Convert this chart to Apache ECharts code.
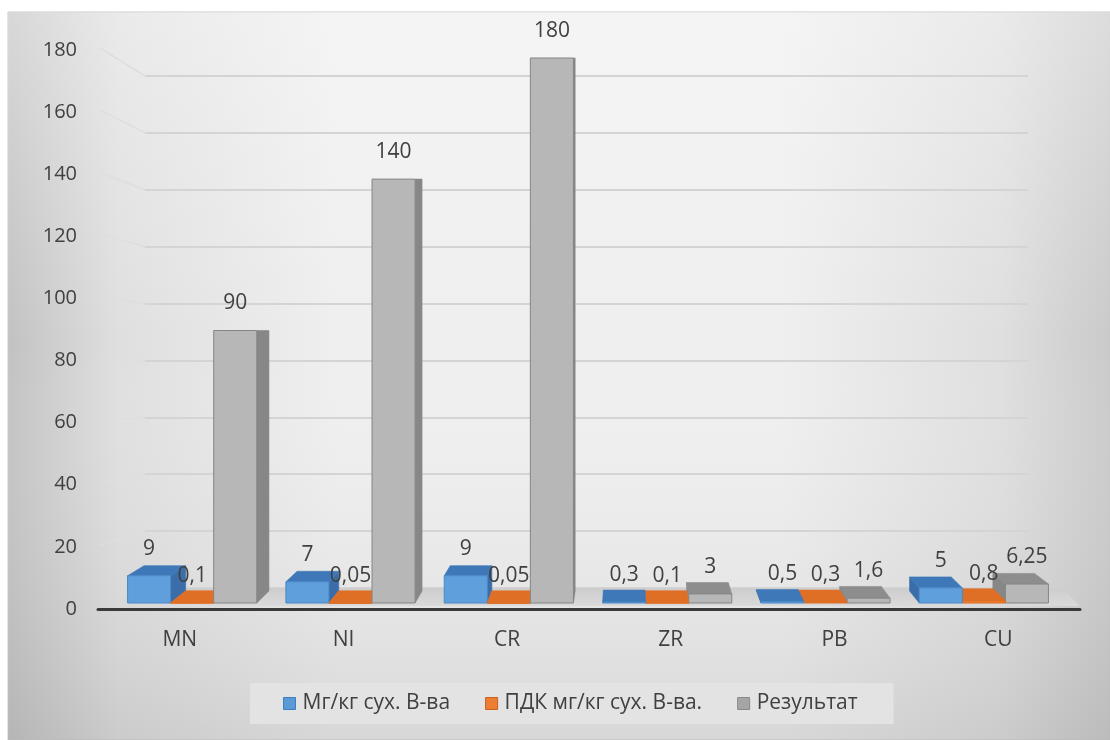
<!DOCTYPE html>
<html>
<head>
<meta charset="utf-8">
<script src="https://cdn.jsdelivr.net/npm/echarts@6/dist/echarts.min.js"></script>
<style>
  html, body { margin: 0; padding: 0; background: #ffffff; }
  #chart { width: 1110px; height: 740px; }
</style>
</head>
<body>
<div id="chart"></div>
<script>
// Chart data
const categories = ['MN', 'NI', 'CR', 'ZR', 'PB', 'CU'];
const seriesNames = ['Мг/кг сух. В-ва', 'ПДК мг/кг сух. В-ва.', 'Результат'];
const mgPerKg = [9, 7, 9, 0.3, 0.5, 5];
const pdkValues = [0.1, 0.05, 0.05, 0.1, 0.3, 0.8];
const resultValues = [90, 140, 180, 3, 1.6, 6.25];
const yTicks = [0, 20, 40, 60, 80, 100, 120, 140, 160, 180];

const seriesValues = [mgPerKg, pdkValues, resultValues];

const FONT = '"Open Sans", "Noto Sans", sans-serif';
const TEXT = '#404040';
const legendColors = ['#5b9bd5', '#ed7d31', '#a5a5a5'];
const legendBorders = ['#3f7fc0', '#c8621f', '#888888'];
// shading of the box faces for each series
const faces = [
  { front: '#5e9fdc', top: '#3f78b8', side: '#3b6ea8', stroke: '#4a88c6' },
  { front: '#ec7a2e', top: '#e06f26', side: '#c45d1c', stroke: '#dc6c22' },
  { front: '#b7b7b7', top: '#8d8d8d', side: '#878787', stroke: '#858585' }
];

const yMin = yTicks[0];
const yMax = yTicks[yTicks.length - 1];
const yStep = yTicks[1] - yTicks[0];

const chart = echarts.init(document.getElementById('chart'));

function fmt(v) { return String(v).replace('.', ','); }

// pixel point on the front plane (grid 0)
function frontPoint(catIdx, v) {
  return chart.convertToPixel({ gridIndex: 0 }, [catIdx, v]);
}
function frontEdges(v) {
  const a = frontPoint(0, v), b = frontPoint(1, v);
  const half = (b[0] - a[0]) / 2;
  const last = frontPoint(categories.length - 1, v);
  return { left: a[0] - half, right: last[0] + half, y: a[1] };
}

function poly(points, fill, z2) {
  return { type: 'polygon', shape: { points: points }, style: { fill: fill, stroke: fill, lineWidth: 0.6 }, z2: z2 };
}

// a column drawn as a box with a visible top and side, receding toward a vanishing point
function renderBox(s, params, api) {
  const i = api.value(0), v = api.value(1);
  const base = api.coord([i, 0]);
  const top = api.coord([i, v]);
  const band = api.size([1, 0])[0];
  const w = band * 0.272;
  const x0 = base[0] + (s - 1.5) * w, x1 = x0 + w;
  const yb = base[1], yt = top[1];
  const cs = params.coordSys;
  const vx = cs.x + cs.width * 0.54;
  const vy = api.coord([0, 56])[1];
  const shiftX = x => 0.033 * (vx - x);
  const shiftY = y => Math.min(0, 0.071 * (vy - y));
  const dx0 = shiftX(x0), dx1 = shiftX(x1), dyt = shiftY(yt), dyb = shiftY(yb);
  const f = faces[s];
  const order = Math.round(2000 - Math.abs((x0 + x1) / 2 - vx)) * 4;
  const children = [];
  if (dx1 > 0.5) {
    children.push(poly([[x1, yt], [x1, yb], [x1 + dx1, yb + dyb], [x1 + dx1, yt + dyt]], f.side, order));
  }
  if (dx0 < -0.5) {
    children.push(poly([[x0, yt], [x0, yb], [x0 + dx0, yb + dyb], [x0 + dx0, yt + dyt]], f.side, order));
  }
  if (dyt < -0.5) {
    children.push(poly([[x0, yt], [x1, yt], [x1 + dx1, yt + dyt], [x0 + dx0, yt + dyt]], f.top, order + 1));
  }
  children.push({
    type: 'rect',
    shape: { x: x0, y: yt, width: w, height: Math.max(0.5, yb - yt) },
    style: { fill: f.front, stroke: f.stroke, lineWidth: 1 },
    z2: order + 2
  });
  children.push({
    type: 'text',
    style: {
      text: fmt(v), x: (x0 + x1) / 2, y: yt - 27,
      align: 'center', verticalAlign: 'middle',
      font: '21px ' + FONT, fill: TEXT
    },
    z2: 100000
  });
  return { type: 'group', children: children };
}

const barSeries = seriesValues.map((vals, s) => ({
  type: 'custom',
  name: seriesNames[s],
  xAxisIndex: 2,
  yAxisIndex: 2,
  z: 3,
  itemStyle: { color: legendColors[s] },
  data: vals.map((v, i) => [i, v]),
  renderItem: (params, api) => renderBox(s, params, api)
}));

const option = {
  animation: false,
  graphic: {
    elements: [
      {
        type: 'rect', z: -20, silent: true,
        shape: { x: 8, y: 12, width: 1102, height: 728 },
        style: {
          fill: new echarts.graphic.LinearGradient(0, 0, 1, 0, [
            { offset: 0, color: '#c2c2c2' },
            { offset: 0.1, color: '#dfdfdf' },
            { offset: 0.3, color: '#efefef' },
            { offset: 0.7, color: '#efefef' },
            { offset: 0.9, color: '#dfdfdf' },
            { offset: 1, color: '#cacaca' }
          ]),
          stroke: '#c8c8c8', lineWidth: 1
        }
      },
      {
        type: 'rect', z: -19, silent: true,
        shape: { x: 8, y: 12, width: 1102, height: 728 },
        style: {
          fill: new echarts.graphic.LinearGradient(0, 0, 0, 1, [
            { offset: 0, color: 'rgba(255,255,255,0.35)' },
            { offset: 0.45, color: 'rgba(255,255,255,0)' },
            { offset: 1, color: 'rgba(140,140,140,0.24)' }
          ])
        }
      }
    ]
  },
  legend: {
    data: seriesNames.map((n, s) => ({
      name: n,
      itemStyle: { color: legendColors[s], borderColor: legendBorders[s], borderWidth: 1 }
    })),
    left: 250,
    top: 683,
    icon: 'rect',
    itemWidth: 12,
    itemHeight: 12,
    itemGap: 35,
    padding: [10, 36, 10, 33],
    backgroundColor: '#e3e3e3',
    textStyle: { fontSize: 21, color: TEXT, fontFamily: FONT, padding: [0, 0, 0, 2] },
    selectedMode: false
  },
  grid: [
    // front plane: value and category labels
    { left: 98, right: 30, top: 50, bottom: 131, containLabel: false, outerBoundsMode: 'none' },
    // back wall: gridlines
    { left: 145, right: 82, top: 76, bottom: 152, containLabel: false, outerBoundsMode: 'none' },
    // columns
    { left: 113, right: 47, top: 58, bottom: 137, containLabel: false, outerBoundsMode: 'none' }
  ],
  xAxis: [
    {
      gridIndex: 0, type: 'category', data: categories,
      axisTick: { show: false },
      axisLine: { lineStyle: { color: '#3a3a3a', width: 3 } },
      axisLabel: { fontSize: 21, color: TEXT, fontFamily: FONT, margin: 21 },
      splitLine: { show: false }
    },
    { gridIndex: 1, type: 'category', data: categories, show: false },
    { gridIndex: 2, type: 'category', data: categories, show: false }
  ],
  yAxis: [
    {
      gridIndex: 0, type: 'value', min: yMin, max: yMax, interval: yStep,
      axisLine: { show: false }, axisTick: { show: false },
      splitLine: { show: false },
      axisLabel: { fontSize: 20, color: TEXT, fontFamily: FONT, margin: 21 }
    },
    {
      gridIndex: 1, type: 'value', min: yMin, max: yMax, interval: yStep,
      axisLine: { show: false }, axisTick: { show: false },
      axisLabel: { show: false },
      splitLine: { show: true, lineStyle: { color: '#d4d4d4', width: 2 } }
    },
    {
      gridIndex: 2, type: 'value', min: yMin, max: yMax, interval: yStep,
      show: false, splitLine: { show: false }
    }
  ],
  series: [
    {
      // floor of the plot
      type: 'custom', xAxisIndex: 1, yAxisIndex: 1, z: 1, silent: true,
      data: [[0, 0]],
      renderItem: (params, api) => {
        const cs = params.coordSys;
        const backY = api.coord([0, 0])[1];
        const fr = frontEdges(0);
        const pts = [
          [cs.x, backY], [cs.x + cs.width + 34, backY],
          [fr.right, fr.y - 3], [fr.left + 15, fr.y - 3]
        ];
        return {
          type: 'polygon', shape: { points: pts },
          style: {
            fill: new echarts.graphic.LinearGradient(0, 0, 0, 1, [
              { offset: 0, color: '#cdcdcd' },
              { offset: 1, color: '#dadada' }
            ])
          }
        };
      }
    },
    {
      // slanted links from the value labels to the back wall gridlines
      type: 'custom', xAxisIndex: 1, yAxisIndex: 1, z: 1, silent: true,
      data: yTicks.slice(1).map(t => [0, t]),
      renderItem: (params, api) => {
        const t = api.value(1);
        const back = [params.coordSys.x, api.coord([0, t])[1]];
        const fr = frontEdges(t);
        return {
          type: 'line',
          shape: { x1: fr.left + 2, y1: fr.y - 2, x2: back[0], y2: back[1] },
          style: { stroke: '#dedede', lineWidth: 1.5 }
        };
      }
    }
  ].concat(barSeries)
};

chart.setOption(option);
</script>
</body>
</html>
